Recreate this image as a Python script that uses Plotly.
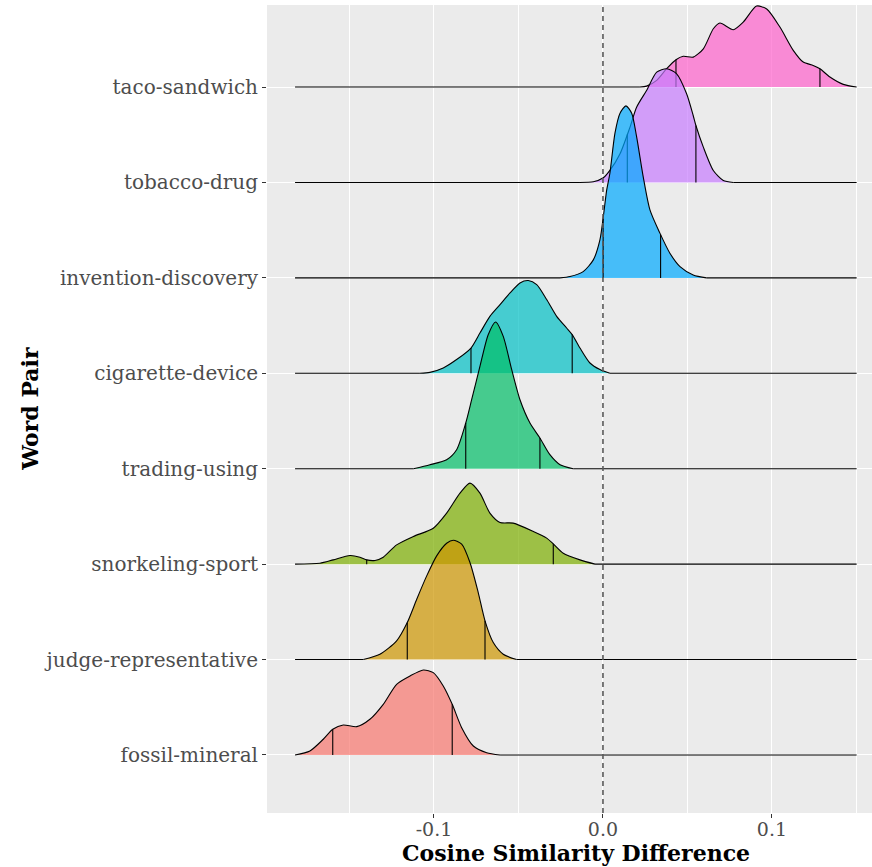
import numpy as np
import plotly.graph_objects as go

# ---------------- data ----------------
categories = ["fossil-mineral", "judge-representative", "snorkeling-sport", "trading-using",
              "cigarette-device", "invention-discovery", "tobacco-drug", "taco-sandwich"]
fill_colors = ["#F8766D", "#CD9600", "#7CAE00", "#00BE67", "#00BFC4", "#00A9FF", "#C77CFF", "#FF61CC"]

data_min, data_max = -0.1822, 0.1501
x_ticks = [-0.1, 0.0, 0.1]
x_tick_labels = ["-0.1", "0.0", "0.1"]

# scaled density heights (1.0 = one row spacing)
fossil_x = [-0.1822, -0.1734, -0.1655, -0.1599, -0.1537, -0.1457, -0.1379, -0.1300, -0.1221, -0.1142,
            -0.1063, -0.1004, -0.0945, -0.0892, -0.0836, -0.0767, -0.0688, -0.0609]
fossil_h = [0, 0.042, 0.165, 0.269, 0.314, 0.297, 0.374, 0.531, 0.741, 0.828,
            0.891, 0.863, 0.723, 0.531, 0.286, 0.094, 0.024, 0]
fossil_q = [-0.1599, -0.0892]

judge_x = [-0.1418, -0.1320, -0.1221, -0.1158, -0.1102, -0.1043, -0.0984, -0.0925, -0.0886, -0.0836,
           -0.0787, -0.0738, -0.0698, -0.0649, -0.0590, -0.0511]
judge_h = [0, 0.056, 0.196, 0.388, 0.632, 0.877, 1.087, 1.219, 1.251, 1.209,
           1.017, 0.702, 0.406, 0.178, 0.056, 0]
judge_q = [-0.1158, -0.0698]

snork_x = [-0.1822, -0.1675, -0.1596, -0.1497, -0.1438, -0.1398, -0.1349, -0.1300, -0.1221, -0.1122,
           -0.1004, -0.0925, -0.0846, -0.0787, -0.0728, -0.0669, -0.0609, -0.0531, -0.0412, -0.0333,
           -0.0294, -0.0235, -0.0136, -0.0047]
snork_h = [0, 0.010, 0.045, 0.091, 0.073, 0.045, 0.039, 0.073, 0.202, 0.290,
           0.377, 0.535, 0.744, 0.849, 0.744, 0.535, 0.437, 0.430, 0.343, 0.273,
           0.213, 0.115, 0.045, 0]
snork_q = [-0.1398, -0.0294]

trading_x = [-0.1122, -0.1024, -0.0925, -0.0866, -0.0812, -0.0777, -0.0728, -0.0679, -0.0635, -0.0590,
             -0.0540, -0.0491, -0.0432, -0.0373, -0.0314, -0.0254, -0.0176]
trading_h = [0, 0.042, 0.094, 0.199, 0.479, 0.723, 1.072, 1.405, 1.538, 1.387,
             1.038, 0.723, 0.479, 0.322, 0.147, 0.042, 0]
trading_q = [-0.0812, -0.0373]

cig_x = [-0.1083, -0.1024, -0.0945, -0.0866, -0.0781, -0.0728, -0.0669, -0.0609, -0.0550, -0.0491,
         -0.0442, -0.0392, -0.0333, -0.0274, -0.0215, -0.0182, -0.0136, -0.0077, -0.0018, 0.0041]
cig_h = [0, 0.010, 0.056, 0.144, 0.265, 0.422, 0.597, 0.720, 0.842, 0.947,
         0.972, 0.930, 0.773, 0.597, 0.475, 0.406, 0.265, 0.108, 0.039, 0]
cig_q = [-0.0781, -0.0182]

invent_x = [-0.0254, -0.0195, -0.0117, -0.0057, -0.0018, 0.0002, 0.0022, 0.0041, 0.0071, 0.0101,
            0.0136, 0.0170, 0.0199, 0.0238, 0.0278, 0.0337, 0.0396, 0.0456, 0.0534, 0.0614]
invent_h = [0, 0.014, 0.066, 0.189, 0.398, 0.639, 0.919, 1.097, 1.517, 1.726,
            1.803, 1.726, 1.481, 1.062, 0.713, 0.469, 0.259, 0.118, 0.031, 0]
invent_q = [0.0001, 0.0341]

tobacco_x = [-0.0136, -0.0057, 0.0002, 0.0041, 0.0101, 0.0160, 0.0199, 0.0258, 0.0318, 0.0377,
             0.0436, 0.0495, 0.0534, 0.0550, 0.0594, 0.0653, 0.0712, 0.0771]
tobacco_h = [0, 0.007, 0.049, 0.126, 0.301, 0.580, 0.789, 0.964, 1.156, 1.192,
             1.139, 0.930, 0.702, 0.597, 0.370, 0.126, 0.021, 0]
tobacco_q = [0.0144, 0.0550]

taco_x = [0.0219, 0.0258, 0.0318, 0.0377, 0.0432, 0.0475, 0.0534, 0.0594, 0.0653, 0.0692,
          0.0771, 0.0830, 0.0909, 0.0969, 0.1047, 0.1126, 0.1185, 0.1244, 0.1284, 0.1343,
          0.1422, 0.1501]
taco_h = [0, 0.010, 0.070, 0.192, 0.286, 0.322, 0.314, 0.401, 0.611, 0.671,
          0.601, 0.681, 0.849, 0.818, 0.629, 0.385, 0.262, 0.227, 0.192, 0.105,
          0.028, 0]
taco_q = [0.0432, 0.1284]

ridges_x = [fossil_x, judge_x, snork_x, trading_x, cig_x, invent_x, tobacco_x, taco_x]
ridges_h = [fossil_h, judge_h, snork_h, trading_h, cig_h, invent_h, tobacco_h, taco_h]
ridges_q = [fossil_q, judge_q, snork_q, trading_q, cig_q, invent_q, tobacco_q, taco_q]


def rgba(hex_color, a):
    h = hex_color.lstrip("#")
    r, g, b = int(h[0:2], 16), int(h[2:4], 16), int(h[4:6], 16)
    return f"rgba({r},{g},{b},{a})"


SERIF = "DejaVu Serif"
fig = go.Figure()

# draw top row first so lower rows sit on top
for i in reversed(range(len(categories))):
    base = i + 1
    xs = list(ridges_x[i])
    hs = list(ridges_h[i])
    ys = [base + h for h in hs]
    # flat (zero-density) parts of the outline, outside the curve
    bx, by = [], []
    if xs[0] > data_min:
        bx += [data_min, xs[0], None]
        by += [base, base, None]
    if xs[-1] < data_max:
        bx += [xs[-1], data_max, None]
        by += [base, base, None]
    if bx:
        fig.add_trace(go.Scatter(x=bx, y=by, mode="lines", line=dict(color="black", width=1.1),
                                 showlegend=False, hoverinfo="skip"))
    fig.add_trace(go.Scatter(x=[xs[0], xs[-1]], y=[base, base], mode="lines",
                             line=dict(width=0, color="rgba(0,0,0,0)"),
                             showlegend=False, hoverinfo="skip"))
    fig.add_trace(go.Scatter(x=xs, y=ys, mode="lines", fill="tonexty",
                             fillcolor=rgba(fill_colors[i], 0.7),
                             line=dict(color="black", width=1.1, shape="spline", smoothing=0.7),
                             showlegend=False, hoverinfo="skip"))
    qx, qy = [], []
    for q in ridges_q[i]:
        top = base + float(np.interp(q, ridges_x[i], ridges_h[i]))
        qx += [q, q, None]
        qy += [base, top, None]
    fig.add_trace(go.Scatter(x=qx, y=qy, mode="lines",
                             line=dict(color="black", width=1.1),
                             showlegend=False, hoverinfo="skip"))

fig.add_shape(type="line", xref="x", yref="paper", x0=0, x1=0, y0=0, y1=1,
              line=dict(color="#5a5a5a", width=1.6, dash="5px,4px"), layer="above")

fig.update_xaxes(range=[-0.1988, 0.1592], tickvals=x_ticks, ticktext=x_tick_labels,
                 showgrid=True, gridcolor="white", gridwidth=1.1, zeroline=False,
                 ticks="outside", ticklen=4, tickcolor="#333333", tickwidth=1,
                 ticklabelstandoff=-5,
                 tickfont=dict(family=SERIF, size=19, color="#4D4D4D"),
                 minor=dict(tickvals=[-0.15, -0.05, 0.05, 0.15], showgrid=True,
                            gridcolor="white", gridwidth=0.6, ticks=""),
                 showline=False, fixedrange=True)
fig.update_yaxes(range=[0.392, 8.86], tickvals=list(range(1, len(categories) + 1)), ticktext=categories,
                 showgrid=True, gridcolor="white", gridwidth=1.1, zeroline=False,
                 ticks="outside", ticklen=4, tickcolor="#333333", tickwidth=1,
                 tickfont=dict(family=SERIF, size=20, color="#4D4D4D"),
                 showline=False, fixedrange=True)

fig.add_annotation(text="<b>Cosine Similarity Difference</b>", xref="paper", yref="paper",
                   x=0.51, y=-0.05, xanchor="center", yanchor="middle", showarrow=False,
                   font=dict(family=SERIF, size=22, color="black"))
fig.add_annotation(text="<b>Word Pair</b>", xref="paper", yref="paper",
                   x=-0.392, y=0.5, xanchor="center", yanchor="middle", showarrow=False,
                   textangle=-90, font=dict(family=SERIF, size=22, color="black"))

fig.update_layout(width=872, height=867, margin=dict(l=267, r=0, t=5, b=54),
                  plot_bgcolor="#EBEBEB", paper_bgcolor="white", showlegend=False)

fig.write_html("out.html")
